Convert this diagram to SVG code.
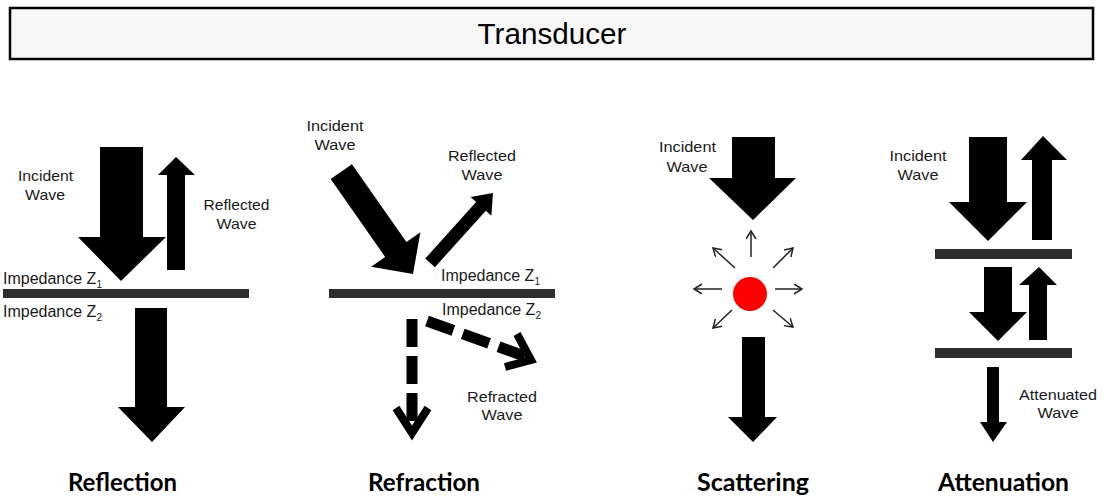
<svg xmlns="http://www.w3.org/2000/svg" width="1104" height="499" viewBox="0 0 1104 499">
<style>
.lbl{font-family:"Liberation Sans",Arial,sans-serif;font-size:15px;fill:#1a1a1a;text-anchor:middle}
.imp{font-family:"Liberation Sans",Arial,sans-serif;font-size:16px;fill:#1a1a1a}
.sub{font-size:10px}
.cap{font-family:Lato,"Open Sans",sans-serif;font-weight:bold;font-size:25px;fill:#000}
.bar{fill:#2e2e2e}
.arr{fill:#000}
.dash{fill:none;stroke:#000;stroke-width:11}
.vhead{fill:none;stroke:#000;stroke-width:8;stroke-linejoin:miter}
.thin{fill:none;stroke:#222;stroke-width:1.5;marker-end:url(#open)}
</style>
<defs>
<marker id="open" markerUnits="userSpaceOnUse" markerWidth="12" markerHeight="12" refX="8" refY="5" orient="auto">
<path d="M0,0 L8,5 L0,10" fill="none" stroke="#222" stroke-width="1.5"/>
</marker>
</defs>
<rect width="1104" height="499" fill="#fff"/>

<g id="transducer">
<rect x="10" y="8" width="1083" height="51" fill="#f7f7f7" stroke="#000" stroke-width="2.5"/>
<text x="552" y="44" font-family="'Liberation Sans',Arial,sans-serif" font-size="29" text-anchor="middle" textLength="149" lengthAdjust="spacingAndGlyphs">Transducer</text>
</g>

<g id="reflection">
<rect class="bar" x="3" y="289" width="246" height="9"/>
<text class="lbl" x="45.5" y="181" textLength="55" lengthAdjust="spacingAndGlyphs">Incident</text>
<text class="lbl" x="45" y="200" textLength="40" lengthAdjust="spacingAndGlyphs">Wave</text>
<text class="lbl" x="236.5" y="210" textLength="66" lengthAdjust="spacingAndGlyphs">Reflected</text>
<text class="lbl" x="236.5" y="229" textLength="40" lengthAdjust="spacingAndGlyphs">Wave</text>
<text class="imp" x="3" y="284">Impedance Z<tspan class="sub" dy="4">1</tspan></text>
<text class="imp" x="3" y="317">Impedance Z<tspan class="sub" dy="4">2</tspan></text>
<text class="cap" x="68" y="491" textLength="109" lengthAdjust="spacingAndGlyphs">Reflection</text>
</g>

<g id="refraction">
<rect class="bar" x="329" y="289" width="226" height="9"/>
<text class="lbl" x="335" y="131" textLength="57" lengthAdjust="spacingAndGlyphs">Incident</text>
<text class="lbl" x="335" y="150" textLength="41" lengthAdjust="spacingAndGlyphs">Wave</text>
<text class="lbl" x="482" y="161" textLength="68" lengthAdjust="spacingAndGlyphs">Reflected</text>
<text class="lbl" x="482" y="180" textLength="41" lengthAdjust="spacingAndGlyphs">Wave</text>
<text class="imp" x="441" y="281">Impedance Z<tspan class="sub" dy="4">1</tspan></text>
<text class="imp" x="442" y="315">Impedance Z<tspan class="sub" dy="4">2</tspan></text>
<text class="lbl" x="502" y="402" textLength="70" lengthAdjust="spacingAndGlyphs">Refracted</text>
<text class="lbl" x="502" y="420" textLength="41" lengthAdjust="spacingAndGlyphs">Wave</text>
<text class="cap" x="368" y="491" textLength="112" lengthAdjust="spacingAndGlyphs">Refraction</text>
</g>

<g id="scattering">
<circle cx="750" cy="294" r="17" fill="#ff0000"/>
<text class="lbl" x="687.5" y="152" textLength="57" lengthAdjust="spacingAndGlyphs">Incident</text>
<text class="lbl" x="687" y="172" textLength="41" lengthAdjust="spacingAndGlyphs">Wave</text>
<text class="cap" x="697" y="491" textLength="112" lengthAdjust="spacingAndGlyphs">Scattering</text>
</g>

<g id="attenuation">
<rect class="bar" x="935" y="249" width="137" height="10"/>
<rect class="bar" x="935" y="348" width="137" height="10"/>
<text class="lbl" x="918" y="161" textLength="57" lengthAdjust="spacingAndGlyphs">Incident</text>
<text class="lbl" x="918" y="180" textLength="41" lengthAdjust="spacingAndGlyphs">Wave</text>
<text class="lbl" x="1058" y="400" textLength="78" lengthAdjust="spacingAndGlyphs">Attenuated</text>
<text class="lbl" x="1058" y="418" textLength="41" lengthAdjust="spacingAndGlyphs">Wave</text>
<text class="cap" x="938" y="491" textLength="131" lengthAdjust="spacingAndGlyphs">Attenuation</text>
</g>

<g id="connectors">
<!-- reflection -->
<polygon class="arr" points="100,147 143,147 143,237 166,237 121,281 78,237 100,237"/>
<polygon class="arr" points="176,157 195,175 185,175 185,270 167,270 167,175 158,175"/>
<polygon class="arr" points="135,308 167,308 167,407 185,407 152,442 118,407 135,407"/>
<!-- refraction -->
<polygon class="arr" transform="translate(413,274) rotate(145)" points="0,0 30,30 13,30 13,125 -13,125 -13,30 -30,30"/>
<polygon class="arr" transform="translate(493,193) rotate(42)" points="0,0 14,18 6.5,18 6.5,94 -6.5,94 -6.5,18 -14,18"/>
<path class="dash" d="M412,319 L412,428" stroke-dasharray="28 9"/>
<polyline class="vhead" points="396,408 412,433 428,408"/>
<path class="dash" d="M427,321 L527,357" stroke-dasharray="28 10"/>
<polyline class="vhead" points="517,334 531,360 505,367"/>
<!-- scattering -->
<polygon class="arr" points="732,137 775,137 775,178 796,178 753,220 709,178 732,178"/>
<polygon class="arr" points="742,337 765,337 765,417 777,417 753,442 728,417 742,417"/>
<path class="thin" d="M751,257 L751,231"/>
<path class="thin" d="M722,289 L694,289"/>
<path class="thin" d="M775,289 L802,289"/>
<path class="thin" d="M735,268 L713,248"/>
<path class="thin" d="M773,268 L793,248"/>
<path class="thin" d="M732,310 L713,328"/>
<path class="thin" d="M773,310 L793,327"/>
<!-- attenuation -->
<polygon class="arr" points="969,137 1007,137 1007,202 1027,202 988,241 949,202 969,202"/>
<polygon class="arr" points="1043,136 1067,160 1052,160 1052,240 1032,240 1032,160 1021,160"/>
<polygon class="arr" points="984,267 1012,267 1012,312 1027,312 998,341 969,312 984,312"/>
<polygon class="arr" points="1039,267 1057,285 1047,285 1047,340 1029,340 1029,285 1019,285"/>
<polygon class="arr" points="987,367 999,367 999,422 1007,422 993,442 980,422 987,422"/>
</g>
</svg>
